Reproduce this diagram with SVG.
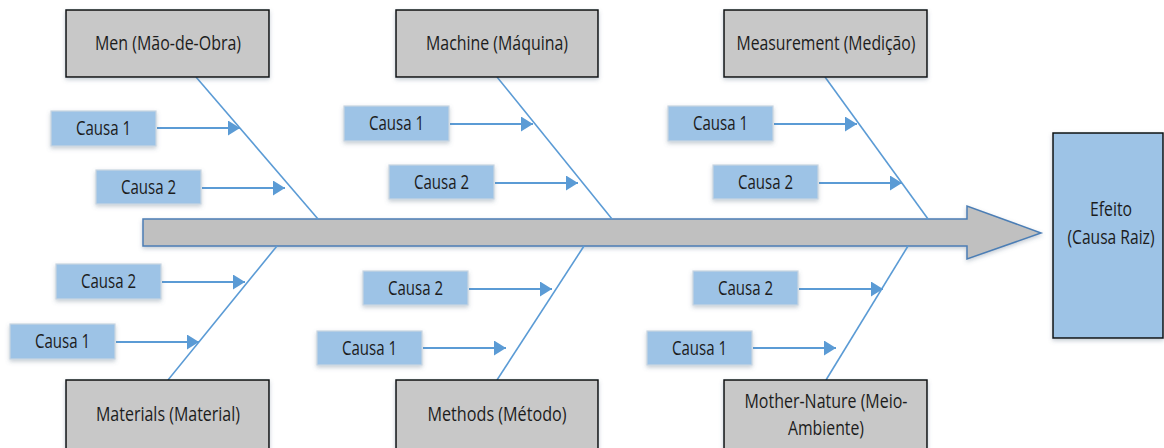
<svg xmlns="http://www.w3.org/2000/svg" width="1164" height="448" viewBox="0 0 1164 448">
  <defs>
    <filter id="shadow" x="-10%" y="-20%" width="120%" height="150%">
      <feDropShadow dx="0" dy="2" stdDeviation="2" flood-color="#5a6e86" flood-opacity="0.35"/>
    </filter>
    <marker id="head" markerUnits="userSpaceOnUse" markerWidth="13" markerHeight="15" refX="12" refY="7.5" orient="auto">
      <path d="M0,0 L12,7.5 L0,15 z" fill="#5B9BD5"/>
    </marker>
  </defs>
  <style>
    text { font-family: "Open Sans", "Liberation Sans", sans-serif; fill: #1c1c1c; font-size: 19.5px; text-anchor: middle; }
    .cat rect { fill: #C8C8C8; stroke: #111; stroke-width: 1.5; }
    .cause rect { fill: #9DC3E6; stroke: #c9d6e2; stroke-width: 1.2; }
    .bone { stroke: #5B9BD5; stroke-width: 1.6; fill: none; }
    .arr { stroke: #5B9BD5; stroke-width: 2; fill: none; marker-end: url(#head); }
  </style>

  <rect width="1164" height="448" fill="#ffffff"/>

  <!-- spine -->
  <g id="spine">
    <polygon points="143,219 967,219 967,206 1041,233 967,259 967,246 143,246" fill="#C0C0C0" stroke="#4C7EB5" stroke-width="1.5" filter="url(#shadow)"/>
  </g>

  <!-- bones and cause arrows -->
  <g id="connectors">
    <line class="bone" x1="196" y1="77" x2="318" y2="219"/>
    <line class="bone" x1="277" y1="246" x2="168" y2="380"/>
    <line class="bone" x1="497" y1="77" x2="612" y2="219"/>
    <line class="bone" x1="584" y1="246" x2="497" y2="380"/>
    <line class="bone" x1="825" y1="77" x2="928" y2="219"/>
    <line class="bone" x1="908" y1="246" x2="826" y2="380"/>

    <line class="arr" x1="157" y1="128" x2="240" y2="128"/>
    <line class="arr" x1="202" y1="188" x2="285" y2="188"/>
    <line class="arr" x1="162" y1="282" x2="245" y2="282"/>
    <line class="arr" x1="116" y1="342" x2="199" y2="342"/>

    <line class="arr" x1="450" y1="124" x2="533" y2="124"/>
    <line class="arr" x1="495" y1="183" x2="578" y2="183"/>
    <line class="arr" x1="469" y1="289" x2="552" y2="289"/>
    <line class="arr" x1="423" y1="348" x2="506" y2="348"/>

    <line class="arr" x1="774" y1="124" x2="857" y2="124"/>
    <line class="arr" x1="819" y1="183" x2="902" y2="183"/>
    <line class="arr" x1="799" y1="289" x2="883" y2="289"/>
    <line class="arr" x1="753" y1="348" x2="836" y2="348"/>
  </g>

  <!-- category boxes -->
  <g id="men" class="cat">
    <rect x="66" y="10" width="203" height="67" filter="url(#shadow)"/>
    <text x="168" y="50" textLength="146" lengthAdjust="spacingAndGlyphs">Men (Mão-de-Obra)</text>
  </g>
  <g id="machine" class="cat">
    <rect x="396" y="10" width="202" height="67" filter="url(#shadow)"/>
    <text x="497" y="50" textLength="142" lengthAdjust="spacingAndGlyphs">Machine (Máquina)</text>
  </g>
  <g id="measurement" class="cat">
    <rect x="724" y="10" width="203" height="67" filter="url(#shadow)"/>
    <text x="826" y="50" textLength="179" lengthAdjust="spacingAndGlyphs">Measurement (Medição)</text>
  </g>
  <g id="materials" class="cat">
    <rect x="66" y="380" width="203" height="70" filter="url(#shadow)"/>
    <text x="168" y="421" textLength="144" lengthAdjust="spacingAndGlyphs">Materials (Material)</text>
  </g>
  <g id="methods" class="cat">
    <rect x="396" y="380" width="202" height="70" filter="url(#shadow)"/>
    <text x="497" y="421" textLength="139" lengthAdjust="spacingAndGlyphs">Methods (Método)</text>
  </g>
  <g id="mother-nature" class="cat">
    <rect x="724" y="380" width="203" height="70" filter="url(#shadow)"/>
    <text x="826" y="408" textLength="163" lengthAdjust="spacingAndGlyphs">Mother-Nature (Meio-</text>
    <text x="826" y="435" textLength="76" lengthAdjust="spacingAndGlyphs">Ambiente)</text>
  </g>

  <!-- causes -->
  <g id="men-c1" class="cause">
    <rect x="51" y="111" width="105" height="35" filter="url(#shadow)"/>
    <text x="103.5" y="135" textLength="55" lengthAdjust="spacingAndGlyphs">Causa 1</text>
  </g>
  <g id="men-c2" class="cause">
    <rect x="96" y="170" width="105" height="34" filter="url(#shadow)"/>
    <text x="148.5" y="194" textLength="55" lengthAdjust="spacingAndGlyphs">Causa 2</text>
  </g>
  <g id="materials-c2" class="cause">
    <rect x="56" y="264" width="105" height="35" filter="url(#shadow)"/>
    <text x="108.5" y="288" textLength="55" lengthAdjust="spacingAndGlyphs">Causa 2</text>
  </g>
  <g id="materials-c1" class="cause">
    <rect x="10" y="324" width="105" height="35" filter="url(#shadow)"/>
    <text x="62.5" y="348" textLength="55" lengthAdjust="spacingAndGlyphs">Causa 1</text>
  </g>

  <g id="machine-c1" class="cause">
    <rect x="344" y="106" width="105" height="35" filter="url(#shadow)"/>
    <text x="396.5" y="130" textLength="55" lengthAdjust="spacingAndGlyphs">Causa 1</text>
  </g>
  <g id="machine-c2" class="cause">
    <rect x="389" y="165" width="105" height="34" filter="url(#shadow)"/>
    <text x="441.5" y="189" textLength="55" lengthAdjust="spacingAndGlyphs">Causa 2</text>
  </g>
  <g id="methods-c2" class="cause">
    <rect x="363" y="271" width="105" height="34" filter="url(#shadow)"/>
    <text x="415.5" y="295" textLength="55" lengthAdjust="spacingAndGlyphs">Causa 2</text>
  </g>
  <g id="methods-c1" class="cause">
    <rect x="317" y="331" width="105" height="34" filter="url(#shadow)"/>
    <text x="369.5" y="355" textLength="55" lengthAdjust="spacingAndGlyphs">Causa 1</text>
  </g>

  <g id="measurement-c1" class="cause">
    <rect x="668" y="106" width="105" height="35" filter="url(#shadow)"/>
    <text x="720.5" y="130" textLength="55" lengthAdjust="spacingAndGlyphs">Causa 1</text>
  </g>
  <g id="measurement-c2" class="cause">
    <rect x="713" y="165" width="105" height="34" filter="url(#shadow)"/>
    <text x="765.5" y="189" textLength="55" lengthAdjust="spacingAndGlyphs">Causa 2</text>
  </g>
  <g id="nature-c2" class="cause">
    <rect x="693" y="271" width="105" height="34" filter="url(#shadow)"/>
    <text x="745.5" y="295" textLength="55" lengthAdjust="spacingAndGlyphs">Causa 2</text>
  </g>
  <g id="nature-c1" class="cause">
    <rect x="647" y="331" width="105" height="34" filter="url(#shadow)"/>
    <text x="699.5" y="355" textLength="55" lengthAdjust="spacingAndGlyphs">Causa 1</text>
  </g>

  <!-- effect -->
  <g id="effect">
    <rect x="1053" y="133" width="110" height="205" fill="#9DC3E6" stroke="#111" stroke-width="1.5" filter="url(#shadow)"/>
    <text x="1111" y="216" textLength="42" lengthAdjust="spacingAndGlyphs">Efeito</text>
    <text x="1111" y="244" textLength="87" lengthAdjust="spacingAndGlyphs">(Causa Raiz)</text>
  </g>
</svg>
